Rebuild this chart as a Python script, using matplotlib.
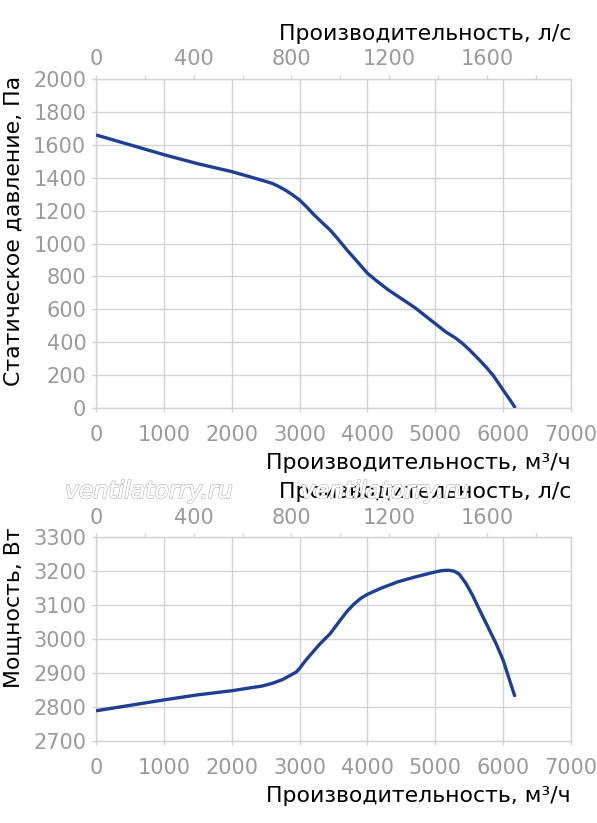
import matplotlib
matplotlib.use("Agg")
import matplotlib.pyplot as plt
import matplotlib.patheffects as pe
from matplotlib.ticker import FixedLocator, FuncFormatter

# ---- data ----
q_pressure = [0, 500, 1000, 1500, 2000, 2400, 2600, 2700, 2800, 2900, 3000, 3100, 3200,
              3300, 3450, 3550, 3700, 3850, 4000, 4150, 4300, 4500, 4700, 4900, 5150,
              5300, 5400, 5500, 5650, 5750, 5850, 5950, 6000, 6100, 6180]
pressure = [1660, 1600, 1540, 1485, 1437, 1390, 1365, 1345, 1322, 1295, 1264, 1224, 1180,
            1140, 1082, 1035, 960, 890, 819, 768, 720, 665, 610, 545, 464,
            425, 393, 355, 292, 248, 200, 140, 109, 50, 0]

q_power = [0, 500, 1000, 1500, 2000, 2450, 2600, 2750, 2850, 2950, 3000, 3050, 3100, 3200,
           3300, 3450, 3600, 3700, 3800, 3900, 4000, 4200, 4450, 4700, 5000, 5100,
           5200, 5280, 5350, 5450, 5550, 5650, 5800, 5900, 6000, 6100, 6175]
power = [2789, 2805, 2821, 2836, 2848, 2862, 2870, 2881, 2892, 2903, 2914, 2927, 2940, 2963,
         2986, 3016, 3056, 3082, 3103, 3120, 3132, 3150, 3169, 3183, 3198, 3202,
         3203, 3200, 3192, 3165, 3129, 3087, 3026, 2985, 2938, 2876, 2830]

x_ticks = [0, 1000, 2000, 3000, 4000, 5000, 6000, 7000]
top_ticks = [0, 200, 400, 600, 800, 1000, 1200, 1400, 1600, 1800]
top_labels = [0, 400, 800, 1200, 1600]
p_ticks = [0, 200, 400, 600, 800, 1000, 1200, 1400, 1600, 1800, 2000]
w_ticks = [2700, 2800, 2900, 3000, 3100, 3200, 3300]

xlabel_bottom = "Производительность, м³/ч"
xlabel_top = "Производительность, л/с"
ylabel_p = "Статическое давление, Па"
ylabel_w = "Мощность, Вт"
watermark = "ventilatorry.ru"

# ---- style ----
W, H = 597, 823
plt.rcParams['font.family'] = ['DejaVu Sans']
LINE = '#1f3f94'
GRID = '#d2d2d2'
TICKC = '#9a9a9a'
TFS = 15
LFS = 15.8

fig = plt.figure(figsize=(W / 100, H / 100), dpi=100)


def fx(px):
    return px / W


def fy(py):
    return 1 - py / H


def make_axes(top_px, bot_px, xs, ys, yt, ylab, ylab_center_px):
    ax = fig.add_axes([fx(96), fy(bot_px), fx(571) - fx(96), fy(top_px) - fy(bot_px)])
    ax.plot(xs, ys, color=LINE, lw=2.4, solid_capstyle='butt', solid_joinstyle='round', zorder=3)
    ax.set_xlim(0, 7000)
    ax.set_ylim(yt[0], yt[-1])
    ax.set_xticks(x_ticks)
    ax.set_yticks(yt)
    ax.grid(True, color=GRID, lw=1.0)
    for s in ax.spines.values():
        s.set_color(GRID)
        s.set_linewidth(1.0)
    ax.tick_params(axis='both', colors=GRID, labelcolor=TICKC, labelsize=TFS,
                   length=3, width=1.0, direction='out')
    ax.tick_params(axis='x', pad=9)
    ax.tick_params(axis='y', pad=4)
    ax.set_xlabel(xlabel_bottom, fontsize=LFS, color='black', loc='right', labelpad=6)

    sec = ax.secondary_xaxis('top', functions=(lambda v: v / 3.6, lambda v: v * 3.6))
    sec.xaxis.set_major_locator(FixedLocator(top_ticks))
    sec.xaxis.set_major_formatter(FuncFormatter(
        lambda v, p: f"{int(round(v))}" if int(round(v)) in top_labels else ""))
    sec.tick_params(axis='x', colors=GRID, labelcolor=TICKC, labelsize=TFS,
                    length=3, width=1.0, direction='out', pad=4)
    sec.spines['top'].set_visible(False)
    sec.set_xlabel(xlabel_top, fontsize=LFS, color='black', loc='right', labelpad=7)

    fig.text(fx(14), fy(ylab_center_px), ylab, rotation=90, fontsize=LFS,
             color='black', ha='center', va='center')
    return ax


ax1 = make_axes(79, 408, q_pressure, pressure, p_ticks, ylabel_p, 231)
ax2 = make_axes(537.3, 741, q_power, power, w_ticks, ylabel_w, 608)

for cx in (149, 385):
    fig.text(fx(cx), fy(491), watermark, fontsize=17, style='italic', ha='center', va='center',
             color='white', zorder=10,
             path_effects=[pe.withStroke(linewidth=1.2, foreground='#bdbdbd'), pe.Normal()])

fig.savefig("out.png", dpi=100)
